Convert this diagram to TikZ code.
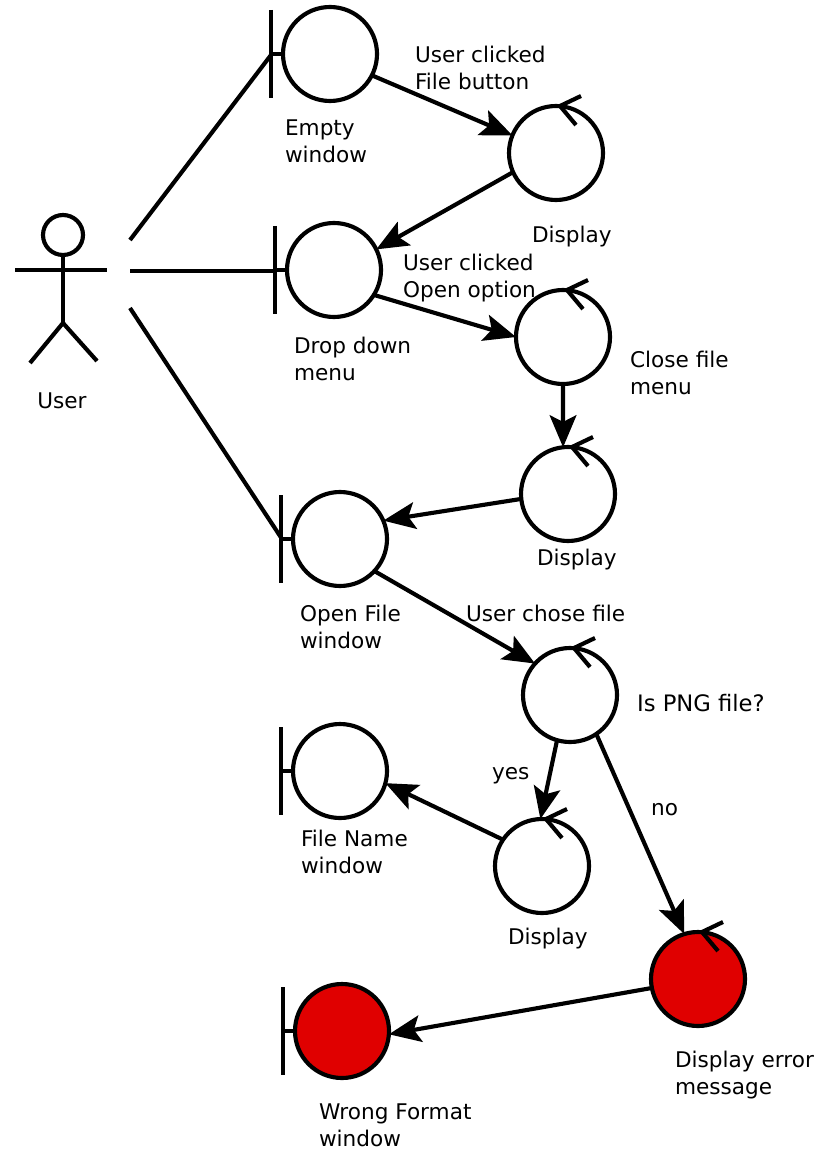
\documentclass[tikz,border=0pt]{standalone}
\usepackage{fontspec}
\setmainfont{DejaVu Sans}
\usetikzlibrary{arrows.meta, calc}
\definecolor{errorred}{HTML}{E00000}

\begin{document}
\begin{tikzpicture}[x=0.75pt, y=-0.75pt,
	            every circle node/.style={
	            draw,
	            line width=3.1pt,
	            inner sep=0pt,
	            outer sep=0pt,
	            minimum size=70.5pt,
	            },
	            txt/.style={
	            font=\fontsize{16.2}{20.25}\selectfont,
	            align=left,
	            anchor=west,
	            inner sep=0pt,
	            xshift=-1.5pt,
	            yshift=-0.5pt,
	            },
	            >={Stealth[length=24pt, width=20pt, inset=5pt]},
	            every path/.style={
                    line width=3.1pt
                }]

	        \useasboundingbox (0,0) rectangle (814,1151);

	        % boundaries
	        \node[circle] (empty) at (330,54) {};
	        \node[circle] (drop) at (334,270) {};
	        \node[circle] (open) at (340,539) {};
	        \node[circle] (name) at (340,771) {};
	        \node[circle, fill=errorred] (wrong) at (342,1031) {};

	        % controls
	        \node[circle] (display1) at (556,153) {};
	        \node[circle] (close) at (563,337) {};
	        \node[circle] (display2) at (568,494) {};
	        \node[circle] (png) at (570,695) {};
	        \node[circle] (display3) at (542,866) {};
	        \node[circle, fill=errorred] (error) at (698,979) {};

	        \foreach \n in {empty, drop, open, name, wrong} {
	            \draw (\n.west) -- ++(-12,0);
	            \draw ($(\n.center)+(-59,-44)$) -- ($(\n.center)+(-59,44)$);
	        }
	        \foreach \n in {display1, close, display2, png, display3, error} {
	            \draw ($(\n.center)+(25,-57)$) -- ($(\n.center)+(4,-47)$) -- ($(\n.center)+(20,-28)$);
	        }

	        % actor
	        \node[circle, every circle node/.append style={minimum size=30pt}] (head) at (63,235) {};
	        \coordinate (hip) at (63,323);
	        \coordinate (armL) at (15,270);
	        \coordinate (armR) at (107,270);
	        \coordinate (legL) at (30,363);
	        \coordinate (legR) at (97,361);
	        \draw (head) -- (hip);
	        \draw (armL) -- (armR);
	        \draw (legL) -- (hip) -- (legR);

	        \coordinate (user1) at (130,240);
	        \coordinate (user2) at (130,271);
	        \coordinate (user3) at (130,308);
	        \draw (user1) -- ($(empty.center)+(-59,1)$);
	        \draw (user2) -- ($(drop.center)+(-58,1)$);
	        \draw (user3) -- ($(open.center)+(-58,0)$);

	        % messages
	        \draw[->] (empty.-27) -- (display1.158);
	        \draw[->] (display1.204) -- (drop.26);
	        \draw[->] (drop.-32) -- (close.180);
	        \draw[->] (close.south) -- (display2.96);
	        \draw[->] (display2.186) -- (open.23);
	        \draw[->] (open.-43) -- (png.138);
	        \draw[->] (png.254) -- (display3.92);
	        \draw[->] (display3.146) -- (name.-15);
	        \draw[->] (png.-56) -- (error.107);
	        \draw[->] (error.191) -- (wrong.-4);

	        % texts
	        \node[txt, anchor=center] (tuser) at (64,400) {User};
	        \node[txt] (tempty) at (285,141) {Empty\\window};
	        \node[txt] (tfile) at (415,67) {User clicked\\File button};
	        \node[txt] (tdisplay1) at (532,236) {Display};
	        \node[txt] (topt) at (403,277) {User clicked\\Open option};
	        \node[txt] (tdrop) at (294,358) {Drop down\\menu};
	        \node[txt] (tclose) at (630,372) {Close file\\menu};
	        \node[txt] (tdisplay2) at (537,559) {Display};
	        \node[txt] (topen) at (300,626) {Open File\\window};
	        \node[txt] (tchose) at (466,613) {User chose file};
	        \node[txt, font=\fontsize{17}{20.25}\selectfont] (tpng) at (637,702) {Is PNG file?};
	        \node[txt] (tyes) at (492,775) {yes};
	        \node[txt] (tno) at (651,809) {no};
	        \node[txt] (tname) at (301,851) {File Name\\window};
	        \node[txt] (tdisplay3) at (508,938) {Display};
	        \node[txt] (terror) at (675,1074) {Display error\\message};
	        \node[txt] (twrong) at (319,1125) {Wrong Format\\window};

	    \end{tikzpicture}
\end{document}
